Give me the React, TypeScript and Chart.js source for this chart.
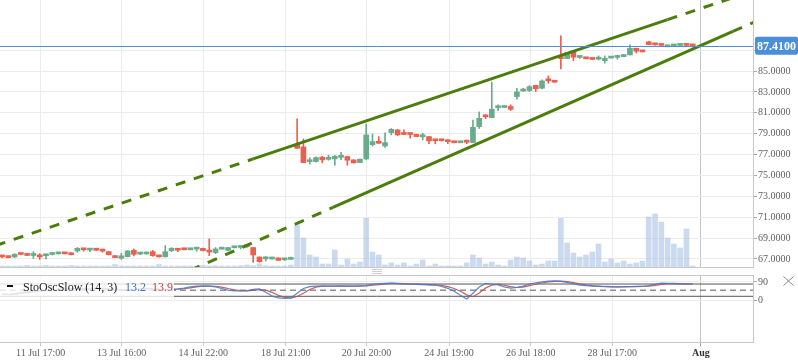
import React, { useEffect, useRef } from 'react';
import { Chart, registerables } from 'chart.js';

Chart.register(...registerables);

const FONT = '"Liberation Serif", "Times New Roman", serif';

// ---- candle data (4h candles, index 0..110) ----
const opens = [67.25,67.18,67.19,67.47,67.45,67.33,67.24,67.31,67.43,67.49,
 67.52,67.58,67.77,67.92,67.85,67.88,67.79,67.70,67.30,67.07,
 67.22,67.83,67.47,67.48,67.70,67.24,67.22,67.80,67.88,67.92,
 67.88,67.94,68.02,67.72,67.61,67.94,67.83,68.07,68.10,68.23,
 68.09,67.19,67.01,67.00,67.10,66.92,66.96,77.98,77.73,76.31,
 76.33,76.75,76.54,76.58,76.73,76.81,76.49,76.23,76.58,77.95,
 78.24,77.82,79.10,79.36,78.96,78.96,78.94,78.70,78.72,78.36,
 78.36,78.27,78.17,78.13,78.22,78.15,79.68,80.65,80.54,81.48,
 81.51,81.60,82.55,83.08,83.13,83.63,83.35,84.10,83.97,86.38,
 86.19,86.83,86.30,86.21,86.15,86.13,86.00,86.24,86.30,86.38,
 86.54,87.18,86.98,87.79,87.55,87.49,87.32,87.40,87.45,87.49,
 87.43];
const highs = [67.35,67.20,67.50,67.50,67.46,67.70,67.50,67.35,67.55,67.55,
 67.53,67.60,68.10,67.93,67.89,67.95,67.95,67.72,67.30,67.55,
 67.80,67.95,67.52,67.66,67.82,67.25,68.28,68.09,68.02,67.93,
 67.93,68.10,68.03,68.92,68.09,67.99,68.12,68.12,68.28,68.25,
 68.10,67.20,67.22,67.14,67.11,67.06,67.19,80.41,78.49,76.70,
 76.78,76.81,76.94,76.91,77.20,76.82,76.50,76.57,79.93,78.97,
 78.72,79.07,79.49,79.42,79.36,78.97,78.95,79.04,78.73,78.40,
 78.37,78.40,78.18,78.18,78.40,80.31,81.08,80.82,83.95,81.76,
 81.56,81.76,83.35,83.35,83.60,83.64,84.15,84.53,83.98,88.36,
 86.80,86.84,86.35,86.28,86.16,86.45,86.45,86.29,86.51,86.60,
 87.50,87.19,86.99,87.85,87.60,87.50,87.37,87.45,87.50,87.50,
 87.44];
const lows = [67.10,67.10,67.13,67.42,67.33,67.05,66.96,66.98,67.38,67.46,
 67.48,67.38,67.65,67.75,67.70,67.80,67.65,67.38,67.12,66.96,
 67.20,67.30,67.42,67.46,67.25,67.18,67.16,67.70,67.70,67.86,
 67.87,67.75,67.78,67.32,67.50,67.93,67.80,68.06,67.96,68.10,
 66.68,66.68,66.80,66.99,66.86,66.85,66.95,77.58,76.22,76.08,
 76.27,76.20,76.46,75.97,76.50,75.97,76.19,76.22,76.49,77.82,
 78.07,77.69,78.88,78.82,78.91,78.56,78.71,78.40,78.03,78.03,
 78.30,78.03,78.12,78.12,78.03,78.14,79.49,80.44,80.53,81.21,
 81.50,81.21,82.30,83.05,83.03,83.02,83.29,83.82,83.92,85.20,
 86.18,86.00,86.20,86.16,86.10,86.06,85.75,86.23,86.13,86.36,
 86.53,86.73,86.82,87.52,87.47,87.44,87.31,87.39,87.44,87.44,
 87.30];
const closes = [67.20,67.13,67.45,67.43,67.34,67.45,67.20,67.34,67.47,67.52,
 67.49,67.40,68.02,67.88,67.88,67.84,67.75,67.40,67.13,67.30,
 67.77,67.45,67.50,67.64,67.32,67.20,67.70,68.02,67.84,67.88,
 67.92,67.98,67.80,67.66,67.96,67.98,68.09,68.11,68.14,68.19,
 67.38,66.74,67.05,67.13,66.87,66.95,67.06,77.60,76.23,76.35,
 76.71,76.49,76.58,76.84,76.77,76.46,76.20,76.56,78.88,78.24,
 78.08,78.14,79.42,78.88,78.92,78.92,78.72,78.74,78.31,78.32,
 78.32,78.23,78.13,78.17,78.18,79.61,80.47,80.61,81.34,81.52,
 81.55,81.34,83.00,83.12,83.50,83.31,84.05,84.06,83.93,86.19,
 86.76,86.32,86.34,86.17,86.11,86.32,86.22,86.28,86.34,86.57,
 87.18,86.90,86.83,87.53,87.51,87.45,87.36,87.44,87.49,87.45,
 87.41];
const volumes = [1,1,1,1,1.5,1,1,1.5,1,1,
 1,1.5,1,1,1,1,1,1,2.5,1,
 1,1,1,1,1,2.5,1,1,1,1,
 1,1,1.5,1,1.3,1,1,1,1.3,2,
 1.3,3.3,1.3,1,1,1,2,42,29,12,
 10,3,3,17,2,8,3,5,48.7,15,
 12,2,4,2,4,1,3,7,1,3,
 1,1,1,1,4,12,9,3,5,2,
 1,7,10,9,6,2,3,6,6,48.7,
 24,14,10,12,15,23,5,8,4,6,
 3,4,6,50,53,45,29,23,19,38,
 1];

// ---- stochastic oscillator ----
const stochK = [30,28,32,38,42,45,48,50,52,55,57,
 58,56,55,57,60,58,55,52,50,52,
 55,57,56,55,54,54,55,56,60,
 66,70,71,70,66,58,
 50,47,46,48,54,56,
 40,22,12,10,12,
 35,58,67,
 70,71,70,70,71,70,70,71,72,
 78,82,83,84,82,
 80,79,78,77,76,75,68,
 59,45,25,7,35,65,
 83,80,76,66,
 60,64,70,80,
 86,90,94,95,93,88,
 80,75,72,70,
 68,67,66,66,67,67,68,69,
 72,78,84,83,82,81,80,80];
const stochD = [32,30,30,33,38,42,45,48,50,52,55,
 57,57,56,56,57,58,57,55,52,51,
 52,55,56,56,55,54,54,55,57,
 61,66,69,70,69,65,
 58,52,48,47,49,53,
 50,39,25,15,11,
 19,35,53,
 65,69,70,70,70,70,70,70,71,
 74,77,81,83,83,
 82,80,79,78,77,76,73,
 67,58,45,27,18,36,
 60,75,79,74,
 67,63,65,72,
 79,85,90,93,94,92,
 87,81,76,72,
 70,68,67,66,66,67,67,68,
 70,73,78,82,83,82,81,80];
const stochTicks = [0, 90];
const stochLevels = [80, 50, 20];

// ---- axes ----
const timeTickIndex = [6.15, 19.05, 32.05, 45.2, 58.05, 71.2, 84.2, 97.2, 111.3];
const timeTickLabels = ['11 Jul 17:00', '13 Jul 16:00', '14 Jul 22:00', '18 Jul 21:00', '20 Jul 20:00', '24 Jul 19:00', '26 Jul 18:00', '28 Jul 17:00', 'Aug'];
const priceTicks = [67, 69, 71, 73, 75, 77, 79, 81, 83, 85, 87];

// ---- trend lines (index, price) ----
const upperTrend = [{ x: -1, y: 68.29 }, { x: 40, y: 76.58 }, { x: 106, y: 89.92 }, { x: 121, y: 92.95 }];
const lowerTrend = [{ x: 30, y: 65.92 }, { x: 52.7, y: 71.93 }, { x: 116.4, y: 88.79 }, { x: 121, y: 90.01 }];

const lastPrice = 87.41;
const legendName = 'StoOscSlow (14, 3)';
const legendK = '13.2';
const legendD = '13.9';

const X_MIN = -0.32, X_MAX = 119.6;
const PRICE_MIN = 66.23, PRICE_MAX = 91.8;
const VOL_MAX = 267;
const OSC_MIN = -203, OSC_MAX = 124;

const UP = '#6aab8c';
const DOWN = '#e9604e';
const TREND = '#4b7d0d';
const BLUE = '#4a8fd8';
const AXIS_LINE = '#c8c8c8';

const noPad = (axis: any) => {
  axis.paddingTop = 0;
  axis.paddingBottom = 0;
  axis.paddingLeft = 0;
  axis.paddingRight = 0;
};

export default function App() {
  const mainRef = useRef<HTMLCanvasElement>(null);
  const oscRef = useRef<HTMLCanvasElement>(null);

  useEffect(() => {
    document.body.style.margin = '0';
    const idx = closes.map((_, i) => i);
    const colors = idx.map((i) => (closes[i] >= opens[i] ? UP : DOWN));
    const isAug = (i: number) => timeTickLabels[i] === 'Aug';
    const gridColor = (c: any) => (isAug(c.index) ? '#c4c4c4' : '#ececec');
    const tickMarkColor = (c: any) => (isAug(c.index) ? '#999' : '#c8c8c8');

    const xAxis = (showLabels: boolean): any => ({
      type: 'linear',
      min: X_MIN,
      max: X_MAX,
      offset: false,
      afterBuildTicks: (axis: any) => {
        axis.ticks = timeTickIndex.map((v) => ({ value: v }));
      },
      afterFit: (axis: any) => {
        axis.height = showLabels ? 21 : 1;
        noPad(axis);
      },
      grid: { color: gridColor, offset: false, drawTicks: showLabels, tickLength: 4, tickColor: tickMarkColor },
      border: { display: true, color: AXIS_LINE },
      ticks: {
        display: showLabels,
        padding: 1,
        autoSkip: false,
        maxRotation: 0,
        callback: (_v: any, i: number) => timeTickLabels[i],
        font: (c: any) => ({ family: FONT, size: 10, weight: isAug(c.index) ? 'bold' : 'normal' }),
        color: (c: any) => (isAug(c.index) ? '#333' : '#606060'),
      },
    });

    const yAxis = (min: number, max: number, ticks: number[], fmt: (v: number) => string): any => ({
      type: 'linear', position: 'right', min, max,
      afterBuildTicks: (axis: any) => { axis.ticks = ticks.map((v) => ({ value: v })); },
      afterFit: (axis: any) => { axis.width = 45; noPad(axis); },
      grid: { color: '#ececec', tickLength: 4, tickColor: '#aaa' },
      border: { display: true, color: AXIS_LINE },
      ticks: { padding: 1, color: '#606060', font: { family: FONT, size: 10 }, callback: (v: any) => fmt(Number(v)) },
    });

    const priceTag = {
      id: 'priceTag',
      afterDatasetsDraw(chart: any) {
        const { ctx, chartArea, scales } = chart;
        const py = Math.round(scales.y.getPixelForValue(lastPrice)) + 0.5;
        ctx.save();
        ctx.strokeStyle = BLUE;
        ctx.lineWidth = 1;
        ctx.beginPath();
        ctx.moveTo(chartArea.left, py);
        ctx.lineTo(chartArea.right, py);
        ctx.stroke();
        ctx.restore();
      },
      afterDraw(chart: any) {
        const { ctx, chartArea, scales, width } = chart;
        const py = scales.y.getPixelForValue(lastPrice);
        const x0 = chartArea.right + 2;
        const h = 18;
        ctx.save();
        ctx.fillStyle = BLUE;
        ctx.beginPath();
        if (ctx.roundRect) ctx.roundRect(x0, py - h / 2, width - x0, h, 2);
        else ctx.rect(x0, py - h / 2, width - x0, h);
        ctx.fill();
        ctx.fillStyle = '#fff';
        ctx.font = 'bold 12px ' + FONT;
        ctx.textBaseline = 'middle';
        ctx.textAlign = 'left';
        ctx.fillText(lastPrice.toFixed(4), x0 + 2, py + 1);
        ctx.restore();
      },
    };

    const main = new Chart(mainRef.current as HTMLCanvasElement, {
      type: 'bar',
      data: {
        datasets: [
          {
            type: 'line', label: 'upper', data: upperTrend as any, borderColor: TREND, borderWidth: 3,
            pointRadius: 0, clip: 0 as any, order: 1, yAxisID: 'y',
            segment: { borderDash: (c: any) => (c.p0DataIndex === 1 ? undefined : [10, 9]) },
          } as any,
          {
            type: 'line', label: 'lower', data: lowerTrend as any, borderColor: TREND, borderWidth: 3,
            pointRadius: 0, clip: 0 as any, order: 1, yAxisID: 'y',
            segment: { borderDash: (c: any) => (c.p0DataIndex === 1 ? undefined : [10, 9]) },
          } as any,
          {
            type: 'bar', label: 'body', data: idx.map((i) => ({ x: i, y: [opens[i], closes[i]] })) as any,
            backgroundColor: colors, barThickness: 5, minBarLength: 2, grouped: false, order: 2, yAxisID: 'y',
          } as any,
          {
            type: 'bar', label: 'wick', data: idx.map((i) => ({ x: i, y: [lows[i], highs[i]] })) as any,
            backgroundColor: colors, barThickness: 1, minBarLength: 1, grouped: false, order: 3, yAxisID: 'y',
          } as any,
          {
            type: 'bar', label: 'volume', data: idx.map((i) => ({ x: i, y: volumes[i] })) as any,
            backgroundColor: 'rgba(168,194,226,0.6)', barThickness: 5, grouped: false, order: 4, yAxisID: 'vol',
          } as any,
        ],
      },
      options: {
        responsive: false,
        animation: false,
        events: [],
        layout: { padding: 0 },
        plugins: { legend: { display: false }, tooltip: { enabled: false } },
        scales: {
          x: xAxis(false),
          y: yAxis(PRICE_MIN, PRICE_MAX, priceTicks, (v) => v.toFixed(4)),
          vol: { type: 'linear', display: false, min: 0, max: VOL_MAX },
        } as any,
      },
      plugins: [priceTag],
    });

    const topBorder = {
      id: 'topBorder',
      afterDraw(chart: any) {
        const { ctx, chartArea } = chart;
        ctx.save();
        ctx.strokeStyle = AXIS_LINE;
        ctx.lineWidth = 1;
        ctx.beginPath();
        ctx.moveTo(chartArea.left, Math.round(chartArea.top) + 0.5);
        ctx.lineTo(chartArea.right, Math.round(chartArea.top) + 0.5);
        ctx.stroke();
        ctx.restore();
      },
    };

    const osc = new Chart(oscRef.current as HTMLCanvasElement, {
      type: 'line',
      data: {
        datasets: [
          { label: '%K', data: idx.map((i) => ({ x: i, y: stochK[i] })) as any, borderColor: 'rgba(70,125,200,0.9)', borderWidth: 1.2, pointRadius: 0, order: 1 },
          { label: '%D', data: idx.map((i) => ({ x: i, y: stochD[i] })) as any, borderColor: 'rgba(192,80,77,0.9)', borderWidth: 1.2, pointRadius: 0, order: 2 },
          ...stochLevels.map((lv, j) => ({
            label: 'level' + lv,
            data: [{ x: X_MIN, y: lv }, { x: X_MAX, y: lv }] as any,
            borderColor: '#555',
            borderWidth: 1,
            borderDash: j === 1 ? [6, 4] : [],
            pointRadius: 0,
            order: 3,
          })),
        ],
      },
      options: {
        responsive: false,
        animation: false,
        events: [],
        layout: { padding: { top: 7, left: 0, right: 0, bottom: 0 } },
        plugins: { legend: { display: false }, tooltip: { enabled: false } },
        scales: {
          x: xAxis(true),
          y: yAxis(OSC_MIN, OSC_MAX, stochTicks, (v) => String(v)),
        } as any,
      },
      plugins: [topBorder],
    });

    return () => {
      main.destroy();
      osc.destroy();
    };
  }, []);

  const legendText: React.CSSProperties = {
    position: 'absolute', top: 280, fontFamily: FONT, fontSize: 12, lineHeight: '14px', whiteSpace: 'nowrap',
  };

  return (
    <div style={{ position: 'absolute', left: 0, top: 0, width: 798, height: 363, background: '#fff', overflow: 'hidden' }}>
      <canvas ref={mainRef} width={798} height={268} style={{ position: 'absolute', left: 0, top: 0, width: 798, height: 268 }} />
      <canvas ref={oscRef} width={798} height={95} style={{ position: 'absolute', left: 0, top: 268, width: 798, height: 95 }} />
      <div style={{ position: 'absolute', left: 0, top: 277, width: 174, height: 20, background: 'rgba(255,255,255,0.8)' }} />
      <div style={{ position: 'absolute', left: 7, top: 285, width: 6, height: 2, background: '#111' }} />
      <span style={{ ...legendText, left: 23, color: '#222' }}>{legendName}</span>
      <span style={{ ...legendText, left: 125, color: '#4573b5' }}>{legendK}</span>
      <span style={{ ...legendText, left: 152, color: '#b64a48' }}>{legendD}</span>
      {[0, 1, 2].map((k) => (
        <div key={k} style={{ position: 'absolute', left: 372, top: 269 + 2 * k, width: 10, height: 1, background: '#cfcfcf' }} />
      ))}
      <svg style={{ position: 'absolute', left: 782, top: 275 }} width={13} height={12}>
        <path d="M1.5 1.5 L11.5 10.5 M11.5 1.5 L1.5 10.5" stroke="#8a8a8a" strokeWidth={1} fill="none" />
      </svg>
    </div>
  );
}
